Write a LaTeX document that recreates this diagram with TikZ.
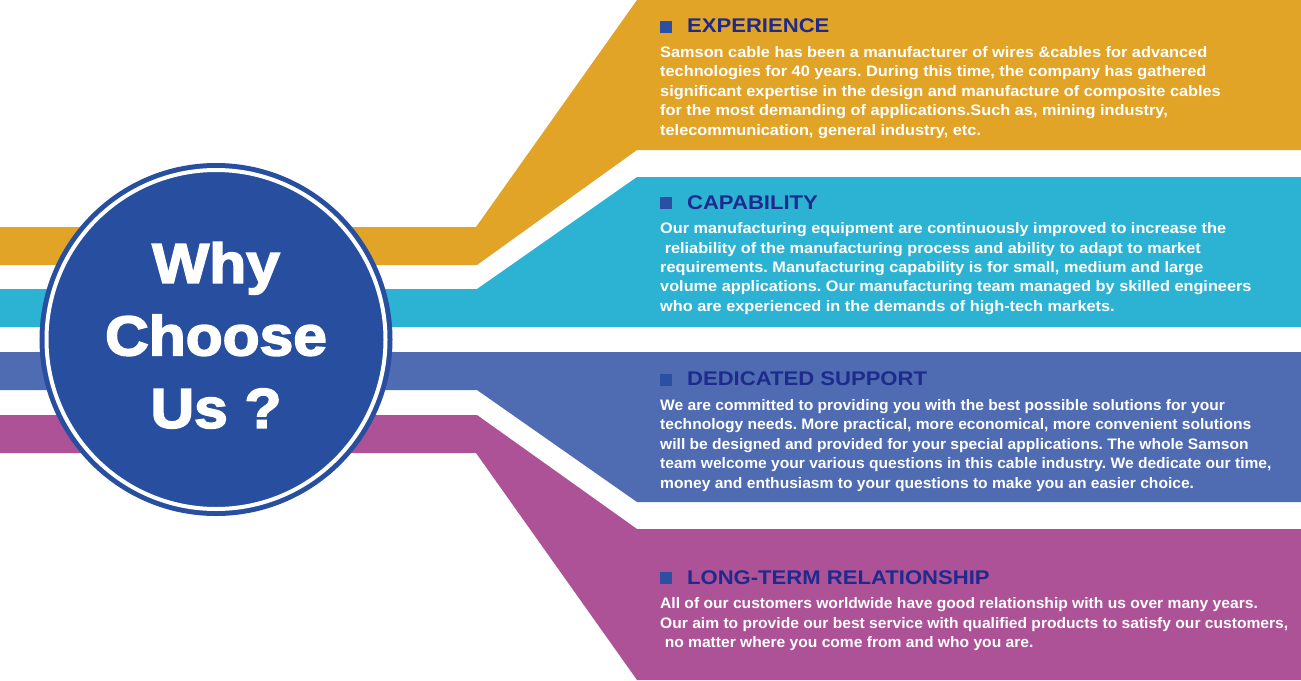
\documentclass[tikz,border=0pt]{standalone}
\usepackage{fontspec}
\setmainfont{Liberation Sans}
\newfontfamily\heavyfont[FakeStretch=1.08,FakeBold=3]{Liberation Sans}
\usepackage{tikz}
\usetikzlibrary{positioning}
\definecolor{bandgold}{HTML}{E1A427}
\definecolor{bandcyan}{HTML}{2CB3D3}
\definecolor{bandblue}{HTML}{4F6CB3}
\definecolor{bandpurple}{HTML}{AE5298}
\definecolor{badgeblue}{HTML}{284EA0}
\definecolor{headnavy}{HTML}{1E2A8C}
\definecolor{bulletblue}{HTML}{2B4FA3}
\tikzset{
  bullet/.style={shape=rectangle,fill=bulletblue,minimum size=11.5pt,inner sep=0pt,anchor=south west},
  heading/.style={inner sep=0pt,text=headnavy,font=\fontsize{19.8}{22}\selectfont\bfseries\addfontfeatures{FakeStretch=1.115}},
  body/.style={inner sep=0pt,text=white,align=left,font=\fontsize{15.2}{19.4}\selectfont\bfseries\addfontfeatures{FakeStretch=#1}\frenchspacing},
  badge/.style={shape=circle,minimum size=339pt,inner sep=0pt,fill=badgeblue,draw=badgeblue,line width=5pt,double=white,double distance=4pt},
  bigtext/.style={inner sep=0pt,text=white,align=center,font=\fontsize{56}{72.5}\selectfont\heavyfont\bfseries}
}
\begin{document}
\begin{tikzpicture}[x=1pt,y=-1pt]
  \useasboundingbox (0,0) rectangle (1301,680);
  \fill[bandgold] (0,227) -- (476,227) -- (637,0) -- (1301,0) -- (1301,150) -- (637,150) -- (477,265) -- (0,265) -- cycle;
  \fill[bandcyan] (0,289) -- (477,289) -- (637,177) -- (1301,177) -- (1301,327) -- (0,327) -- cycle;
  \fill[bandblue] (0,352) -- (1301,352) -- (1301,502) -- (637,502) -- (477,390) -- (0,390) -- cycle;
  \fill[bandpurple] (0,415) -- (477,415) -- (637,529) -- (1301,529) -- (1301,680) -- (637,680) -- (476,453) -- (0,453) -- cycle;
  \node[badge] (why) at (216,339.5) {};
  \node[bigtext,anchor=north] (whytext) at (216,242) {Why\\Choose\\Us ?};
  \node[bullet] (b1) at (660,32.7) {};
  \node[heading,right=15pt of b1.south east,anchor=base west] (exp) {EXPERIENCE};
  \node[body=1.074,below=11pt of b1.south west,anchor=north west] (expbody) {\strut Samson cable has been a manufacturer of wires \&cables for advanced\\
    technologies for 40 years. During this time, the company has gathered\\
    significant expertise in the design and manufacture of composite cables\\
    for the most demanding of applications.Such as, mining industry,\\
    telecommunication, general industry, etc.};
  \node[bullet] (b2) at (660,209) {};
  \node[heading,right=15pt of b2.south east,anchor=base west] (cap) {CAPABILITY};
  \node[body=1.072,below=11pt of b2.south west,anchor=north west] (capbody) {\strut Our manufacturing equipment are continuously improved to increase the\\
    \hspace*{0.3em}reliability of the manufacturing process and ability to adapt to market\\
    requirements. Manufacturing capability is for small, medium and large\\
    volume applications. Our manufacturing team managed by skilled engineers\\
    who are experienced in the demands of high-tech markets.};
  \node[bullet] (b3) at (660,385.7) {};
  \node[heading,right=15pt of b3.south east,anchor=base west] (ded) {DEDICATED SUPPORT};
  \node[body=1.026,below=11pt of b3.south west,anchor=north west] (dedbody) {\strut We are committed to providing you with the best possible solutions for your\\
    technology needs. More practical, more economical, more convenient solutions\\
    will be designed and provided for your special applications. The whole Samson\\
    team welcome your various questions in this cable industry. We dedicate our time,\\
    money and enthusiasm to your questions to make you an easier choice.};
  \node[bullet] (b4) at (660,584) {};
  \node[heading,right=15pt of b4.south east,anchor=base west] (ltr) {LONG-TERM RELATIONSHIP};
  \node[body=1.027,below=11pt of b4.south west,anchor=north west] (ltrbody) {\strut All of our customers worldwide have good relationship with us over many years.\\
    Our aim to provide our best service with qualified products to satisfy our customers,\\
    \hspace*{0.3em}no matter where you come from and who you are.};
\end{tikzpicture}
\end{document}
